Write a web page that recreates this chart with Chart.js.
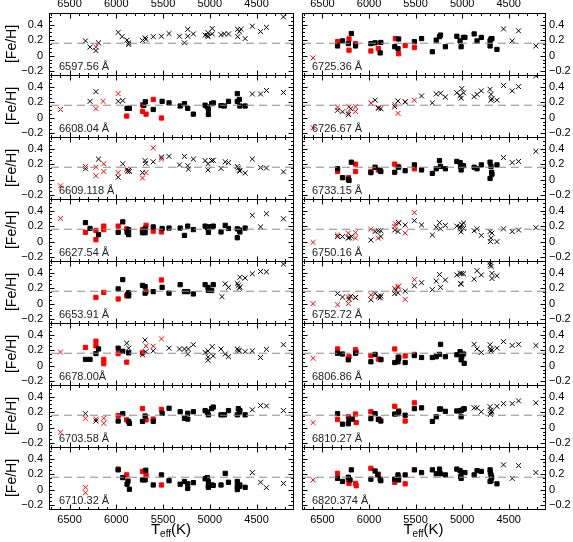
<!DOCTYPE html>
<html lang="en">
<head>
    <meta charset="UTF-8"/>
    <title>[Fe/H] vs Teff per line</title>
    <script src="https://cdn.jsdelivr.net/npm/chart.js"></script>
    <style>
        html, body {
            margin: 0;
            background: #fff;
        }

        #figure {
            position: relative;
            width: 573px;
            height: 542px;
            overflow: hidden;
            background: #fff;
        }

        #figure canvas {
            position: absolute;
        }
    </style>
</head>
<body>
<div id="figure"></div>

<script>
    // axis ranges (Teff axis runs hot -> cool, left to right)
    const tMax = 6720, tMin = 4110;
    const yMin = -0.25, yMax = 0.55;
    const feRef = 0.16;
    const xTicks = [4500, 5000, 5500, 6000, 6500];
    const yTicks = [-0.2, 0, 0.2, 0.4];

    const leftLines = ['6597.56 Å', '6608.04 Å', '6609.118 Å', '6627.54 Å', '6653.91 Å', '6678.00Å', '6703.58 Å', '6710.32 Å'];
    const rightLines = ['6725.36 Å', '6726.67 Å', '6733.15 Å', '6750.16 Å', '6752.72 Å', '6806.86 Å', '6810.27 Å', '6820.374 Å'];

    // [Teff, [Fe/H]] ; sq = black square, sqRed = red square, x = black cross, xRed = red cross
    const sq6597 = [];
    const sqRed6597 = [];
    const x6597 = [[6330, 0.19], [6281, 0.11], [6218, 0.065], [6190, 0.165], [5980, 0.30], [5938, 0.245], [5885, 0.20], [5868, 0.165], [5868, 0.145], [5720, 0.195], [5692, 0.23], [5685, 0.21], [5605, 0.245], [5517, 0.25], [5436, 0.285], [5324, 0.25], [5271, 0.165], [5236, 0.34], [5236, 0.25], [5176, 0.28], [5050, 0.265], [5026, 0.26], [5019, 0.295], [5019, 0.245], [4974, 0.35], [4974, 0.28], [4880, 0.27], [4845, 0.28], [4800, 0.28], [4702, 0.34], [4702, 0.245], [4684, 0.31], [4665, 0.34], [4622, 0.22], [4545, 0.38], [4457, 0.31], [4394, 0.365], [4212, 0.50]];
    const xRed6597 = [[6218, 0.11]];

    const sq6608 = [[5885, 0.12], [5860, 0.12], [5706, 0.157], [5690, 0.205], [5605, 0.105], [5510, 0.21], [5436, 0.19], [5317, 0.15], [5271, 0.18], [5236, 0.12], [5176, 0.045], [5050, 0.16], [5026, 0.14], [5015, 0.04], [5015, 0.105], [4980, 0.18], [4963, 0.19], [4880, 0.155], [4845, 0.15], [4800, 0.21], [4706, 0.31], [4706, 0.21], [4684, 0.235], [4678, 0.15], [4622, 0.15]];
    const sqRed6608 = [[5889, 0.02], [5720, 0.165], [5720, 0.08], [5682, 0.045], [5605, 0.235], [5517, -0.005]];
    const x6608 = [[6281, 0.21], [6218, 0.335], [5980, 0.21], [5931, 0.22], [4545, 0.305], [4457, 0.305], [4394, 0.35], [4212, 0.325]];
    const xRed6608 = [[6597, 0.105], [6218, 0.115], [6141, 0.21], [5980, 0.31]];

    const sq6609 = [];
    const sqRed6609 = [];
    const x6609 = [[6330, 0.14], [6190, 0.265], [5980, 0.03], [5931, 0.205], [5880, 0.11], [5868, 0.12], [5860, 0.105], [5720, 0.09], [5692, 0.245], [5685, 0.21], [5605, 0.23], [5517, 0.29], [5436, 0.30], [5324, 0.19], [5271, 0.30], [5236, 0.18], [5229, 0.135], [5176, 0.265], [5050, 0.245], [5019, 0.205], [5019, 0.125], [4980, 0.245], [4963, 0.25], [4880, 0.145], [4835, 0.23], [4800, 0.22], [4706, 0.17], [4695, 0.15], [4684, 0.12], [4678, 0.11], [4622, 0.085], [4545, 0.265], [4457, 0.155], [4394, 0.15], [4212, 0.10]];
    const xRed6609 = [[6597, -0.08], [6330, 0.17], [6218, 0.16], [6218, 0.05], [6134, 0.205], [6134, 0.105], [5980, 0.09], [5889, 0.135], [5720, 0.02], [5682, 0.09], [5605, 0.41], [5517, 0.265]];

    const sq6627 = [[6330, 0.245], [6281, 0.17], [6190, 0.09], [5980, 0.12], [5931, 0.255], [5885, 0.12], [5868, 0.155], [5868, 0.09], [5720, 0.115], [5692, 0.115], [5692, 0.165], [5605, 0.19], [5510, 0.17], [5436, 0.175], [5317, 0.175], [5271, 0.08], [5236, 0.20], [5176, 0.155], [5050, 0.20], [5026, 0.18], [5015, 0.19], [5015, 0.12], [4984, 0.19], [4963, 0.20], [4880, 0.125], [4835, 0.21], [4800, 0.17], [4706, 0.165], [4706, 0.05], [4684, 0.15], [4678, 0.125], [4622, 0.175]];
    const sqRed6627 = [[6330, 0.12], [6218, 0.145], [6218, 0.025], [6134, 0.20], [6134, 0.155], [5980, 0.20], [5889, 0.165], [5720, 0.155], [5682, 0.21], [5605, 0.135], [5517, 0.125]];
    const x6627 = [[4545, 0.34], [4457, 0.19], [4394, 0.36], [4212, 0.295]];
    const xRed6627 = [[6597, 0.30]];

    const sq6653 = [[5980, 0.19], [5931, 0.31], [5880, 0.12], [5868, 0.14], [5868, 0.10], [5720, 0.235], [5692, 0.22], [5692, 0.135], [5605, 0.155], [5510, 0.21], [5436, 0.135], [5317, 0.245], [5271, 0.155], [5236, 0.155], [5176, 0.125], [5050, 0.245], [5019, 0.21], [5015, 0.17], [4980, 0.17], [4963, 0.245]];
    const sqRed6653 = [[6218, 0.08], [6134, 0.145], [5980, 0.06], [5889, 0.10], [5682, 0.155], [5517, 0.305]];
    const x6653 = [[4870, 0.09], [4835, 0.255], [4800, 0.21], [4706, 0.26], [4695, 0.235], [4684, 0.20], [4678, 0.215], [4678, 0.34], [4622, 0.33], [4545, 0.385], [4457, 0.415], [4394, 0.41], [4212, 0.51]];
    const xRed6653 = [];

    const sq6678 = [[6330, 0.08], [6281, 0.08], [6218, 0.155], [6190, 0.215], [5980, 0.225], [5931, 0.185], [5868, 0.165]];
    const sqRed6678 = [[6330, 0.235], [6218, 0.315], [6218, 0.255], [6134, 0.08], [6134, 0.025], [5980, 0.155], [5889, 0.045], [5720, 0.165]];
    const x6678 = [[5889, 0.29], [5868, 0.225], [5720, 0.14], [5692, 0.33], [5685, 0.18], [5605, 0.19], [5436, 0.225], [5324, 0.215], [5271, 0.215], [5236, 0.15], [5229, 0.215], [5176, 0.27], [5050, 0.17], [5019, 0.19], [5019, 0.11], [5019, 0.07], [4974, 0.245], [4963, 0.125], [4880, 0.215], [4835, 0.15], [4800, 0.115], [4706, 0.215], [4695, 0.20], [4684, 0.19], [4622, 0.18], [4545, 0.19], [4457, 0.105], [4394, 0.21], [4212, 0.27]];
    const xRed6678 = [[6597, 0.175], [5682, 0.255], [5605, 0.25], [5517, 0.345]];

    const sq6703 = [[5980, 0.085], [5931, 0.18], [5868, 0.08], [5860, 0.055], [5720, 0.08], [5692, 0.15], [5605, 0.08], [5510, 0.185], [5436, 0.25], [5317, 0.205], [5271, 0.12], [5236, 0.185], [5236, 0.11], [5176, 0.205], [5050, 0.22], [5026, 0.20], [5015, 0.165], [4980, 0.245], [4963, 0.265], [4880, 0.165], [4845, 0.165], [4800, 0.22], [4706, 0.165], [4695, 0.245], [4684, 0.20], [4678, 0.22], [4622, 0.165]];
    const sqRed6703 = [[5980, 0.155], [5889, 0.10], [5720, 0.245], [5682, 0.10], [5605, 0.11], [5517, 0.235]];
    const x6703 = [[6330, 0.18], [6218, 0.085], [4545, 0.23], [4457, 0.285], [4394, 0.28], [4212, 0.22]];
    const xRed6703 = [[6597, -0.06], [6330, 0.12], [6218, 0.11], [6134, 0.12], [6134, 0.055]];

    const sq6710 = [[5980, 0.255], [5931, 0.155], [5885, 0.07], [5875, 0.11], [5860, 0.005], [5720, 0.125], [5692, 0.125], [5685, 0.25], [5605, 0.06], [5517, 0.19], [5436, 0.115], [5317, 0.07], [5271, 0.105], [5236, 0.075], [5236, 0.015], [5176, 0.09], [5050, 0.14], [5026, 0.155], [5015, 0.105], [5015, 0.045], [5015, 0.03], [4980, 0.06], [4963, 0.055], [4880, 0.06], [4835, 0.21], [4800, 0.095], [4706, 0.105], [4706, 0.045], [4706, 0.0], [4684, 0.04], [4678, 0.06], [4622, 0.03]];
    const sqRed6710 = [[5980, 0.265], [5889, 0.19], [5720, 0.235], [5682, 0.19], [5517, 0.06]];
    const x6710 = [[4545, 0.22], [4457, 0.095], [4394, 0.025], [4212, 0.08]];
    const xRed6710 = [[6330, 0.03], [6330, -0.04]];

    const sq6725 = [[6338, 0.125], [6285, 0.19], [6222, 0.155], [6190, 0.285], [6145, 0.125], [5980, 0.155], [5935, 0.165], [5880, 0.035], [5873, 0.17], [5724, 0.115], [5689, 0.09], [5682, 0.215], [5513, 0.18], [5436, 0.22], [5320, 0.05], [5278, 0.20], [5243, 0.245], [5232, 0.265], [5180, 0.115], [5057, 0.25], [5022, 0.19], [5011, 0.115], [4985, 0.235], [4970, 0.235], [4871, 0.28], [4840, 0.19], [4794, 0.235], [4700, 0.19], [4690, 0.215], [4680, 0.22], [4700, 0.125], [4626, 0.08]];
    const sqRed6725 = [[6338, 0.18], [6215, 0.215], [6215, 0.07], [6145, 0.155], [5980, 0.06], [5900, 0.09], [5717, 0.22], [5682, 0.025], [5612, 0.13], [5513, 0.105]];
    const x6725 = [[4556, 0.345], [4462, 0.19], [4394, 0.32], [4208, 0.125]];
    const xRed6725 = [[6601, -0.03]];

    const sq6726 = [];
    const sqRed6726 = [];
    const x6726 = [[6338, 0.095], [6285, 0.075], [6222, 0.04], [6197, 0.115], [5935, 0.225], [5900, 0.12], [5873, 0.115], [5724, 0.14], [5689, 0.215], [5612, 0.205], [5436, 0.28], [5320, 0.19], [5278, 0.305], [5232, 0.315], [5180, 0.265], [5057, 0.32], [5022, 0.285], [5011, 0.25], [5004, 0.375], [4985, 0.32], [4871, 0.27], [4840, 0.30], [4794, 0.345], [4700, 0.365], [4690, 0.30], [4680, 0.245], [4690, 0.225], [4626, 0.225], [4556, 0.415], [4462, 0.345], [4394, 0.40], [4208, 0.54]];
    const xRed6726 = [[6601, -0.13], [6338, 0.135], [6222, 0.06], [6215, 0.14], [6145, 0.14], [6145, 0.08], [5980, 0.19], [5900, 0.13], [5724, 0.165], [5689, 0.055], [5612, 0.20], [5513, 0.225]];

    const sq6733 = [[6338, 0.14], [6285, 0.025], [6222, 0.005], [6215, -0.01], [6190, 0.225], [5980, 0.09], [5935, 0.16], [5880, 0.115], [5873, 0.105], [5724, 0.095], [5682, 0.16], [5612, 0.115], [5513, 0.19], [5436, 0.125], [5320, 0.08], [5278, 0.14], [5243, 0.245], [5232, 0.17], [5180, 0.14], [5057, 0.235], [5022, 0.22], [5015, 0.17], [5011, 0.125], [4985, 0.18], [4871, 0.16], [4840, 0.14], [4794, 0.19], [4700, 0.225], [4690, 0.17], [4683, 0.095], [4680, 0.07], [4700, 0.015], [4626, 0.19]];
    const sqRed6733 = [[6338, 0.105], [6222, 0.025], [6145, 0.20], [6145, 0.105], [5980, 0.105], [5900, 0.125], [5724, 0.20], [5689, 0.17], [5513, 0.14]];
    const x6733 = [[4556, 0.285], [4462, 0.22], [4394, 0.235], [4208, 0.365]];
    const xRed6733 = [];

    const sq6750 = [];
    const sqRed6750 = [];
    const x6750 = [[6338, 0.065], [6285, 0.065], [6222, 0.045], [6215, 0.055], [6190, 0.065], [5980, 0.02], [5935, 0.13], [5900, 0.14], [5873, 0.14], [5873, 0.065], [5724, 0.15], [5689, 0.13], [5682, 0.245], [5612, 0.215], [5513, 0.27], [5436, 0.215], [5320, 0.085], [5278, 0.185], [5243, 0.245], [5232, 0.165], [5180, 0.21], [5057, 0.20], [5022, 0.19], [5015, 0.165], [5011, 0.125], [5004, 0.22], [4985, 0.24], [4985, 0.17], [4871, 0.14], [4840, 0.165], [4794, 0.08], [4700, 0.13], [4690, 0.045], [4680, 0.11], [4697, 0.0], [4626, 0.0], [4556, 0.165], [4462, 0.13], [4394, 0.15], [4208, 0.18]];
    const xRed6750 = [[6601, -0.01], [6338, 0.085], [6222, 0.11], [6145, 0.115], [6145, 0.045], [5980, 0.16], [5900, 0.045], [5724, 0.195], [5717, 0.23], [5682, 0.24], [5612, 0.11], [5513, 0.375]];

    const sq6752 = [];
    const sqRed6752 = [];
    const x6752 = [[6338, 0.13], [6285, 0.085], [6215, 0.055], [6197, 0.095], [6145, 0.08], [5980, 0.05], [5935, 0.13], [5900, 0.095], [5880, 0.075], [5873, 0.10], [5724, 0.13], [5713, 0.175], [5689, 0.14], [5612, 0.16], [5513, 0.23], [5436, 0.27], [5320, 0.18], [5278, 0.29], [5243, 0.375], [5232, 0.21], [5180, 0.305], [5057, 0.37], [5022, 0.39], [5015, 0.26], [5011, 0.25], [5004, 0.39], [4985, 0.385], [4871, 0.315], [4840, 0.425], [4794, 0.37], [4700, 0.54], [4697, 0.50], [4690, 0.48], [4680, 0.39], [4680, 0.325], [4626, 0.36]];
    const xRed6752 = [[6601, 0.0], [6338, -0.015], [6222, 0.085], [6222, 0.0], [6145, 0.075], [5980, 0.11], [5900, 0.085], [5724, 0.195], [5689, 0.215], [5682, 0.225], [5612, 0.055], [5513, 0.31]];

    const sq6806 = [[6338, 0.16], [6285, 0.15], [6222, 0.075], [6145, 0.16], [5980, 0.05], [5935, 0.145], [5873, 0.08], [5724, 0.04], [5689, 0.05], [5682, 0.095], [5682, 0.11], [5612, 0.04], [5513, 0.13], [5436, 0.105], [5320, 0.105], [5278, 0.115], [5243, 0.145], [5232, 0.275], [5180, 0.115], [5057, 0.14], [5022, 0.18], [5015, 0.15], [5011, 0.075], [5004, 0.115], [4985, 0.15], [4978, 0.03]];
    const sqRed6806 = [[6338, 0.215], [6222, 0.095], [6215, 0.115], [6145, 0.205], [6138, 0.175], [5980, 0.13], [5900, 0.085], [5873, 0.075], [5724, 0.215], [5689, 0.105], [5612, 0.125], [5513, 0.145]];
    const x6806 = [[4871, 0.275], [4840, 0.215], [4794, 0.17], [4700, 0.27], [4697, 0.215], [4690, 0.19], [4680, 0.205], [4626, 0.225], [4556, 0.31], [4462, 0.26], [4394, 0.275], [4208, 0.26]];
    const xRed6806 = [[6601, 0.095]];

    const sq6810 = [[6338, 0.18], [6285, 0.045], [6222, 0.05], [6215, 0.105], [6180, 0.11], [5980, 0.115], [5935, 0.18], [5900, 0.105], [5873, 0.085], [5724, 0.175], [5689, 0.18], [5682, 0.205], [5612, 0.16], [5513, 0.245], [5436, 0.255], [5320, 0.08], [5278, 0.14], [5243, 0.24], [5232, 0.24], [5180, 0.21], [5057, 0.215], [5022, 0.215], [5011, 0.14], [5004, 0.225], [4985, 0.24], [4978, 0.245]];
    const sqRed6810 = [[6338, 0.105], [6222, 0.14], [6145, 0.175], [6138, 0.065], [5980, 0.205], [5893, 0.11], [5724, 0.275], [5682, 0.215], [5612, 0.085], [5513, 0.32]];
    const x6810 = [[4871, 0.255], [4840, 0.255], [4794, 0.205], [4700, 0.27], [4697, 0.17], [4690, 0.225], [4680, 0.205], [4690, 0.19], [4626, 0.275], [4556, 0.31], [4462, 0.31], [4394, 0.345], [4208, 0.32]];
    const xRed6810 = [[6601, 0.065]];

    const sq6820 = [[6338, 0.145], [6285, 0.105], [6222, 0.16], [6204, 0.125], [6190, 0.255], [5980, 0.135], [5935, 0.24], [5907, 0.19], [5880, 0.135], [5873, 0.115], [5724, 0.135], [5689, 0.19], [5682, 0.125], [5612, 0.19], [5513, 0.255], [5436, 0.22], [5320, 0.255], [5278, 0.205], [5243, 0.265], [5232, 0.205], [5180, 0.19], [5057, 0.265], [5022, 0.245], [5015, 0.17], [5011, 0.145], [5004, 0.22], [4970, 0.22], [4871, 0.19], [4840, 0.245], [4794, 0.235], [4700, 0.255], [4697, 0.22], [4690, 0.19], [4683, 0.16], [4690, 0.115], [4700, 0.105], [4626, 0.075]];
    const sqRed6820 = [[6338, 0.21], [6222, 0.125], [6215, 0.08], [6145, 0.08], [6138, 0.05], [5980, 0.275], [5900, 0.20], [5724, 0.095], [5682, 0.16], [5612, 0.075]];
    const x6820 = [[4556, 0.32], [4462, 0.145], [4394, 0.31], [4208, 0.22]];
    const xRed6820 = [[6601, 0.125]];

    const leftSets = [
        [sq6597, sqRed6597, x6597, xRed6597],
        [sq6608, sqRed6608, x6608, xRed6608],
        [sq6609, sqRed6609, x6609, xRed6609],
        [sq6627, sqRed6627, x6627, xRed6627],
        [sq6653, sqRed6653, x6653, xRed6653],
        [sq6678, sqRed6678, x6678, xRed6678],
        [sq6703, sqRed6703, x6703, xRed6703],
        [sq6710, sqRed6710, x6710, xRed6710]
    ];
    const rightSets = [
        [sq6725, sqRed6725, x6725, xRed6725],
        [sq6726, sqRed6726, x6726, xRed6726],
        [sq6733, sqRed6733, x6733, xRed6733],
        [sq6750, sqRed6750, x6750, xRed6750],
        [sq6752, sqRed6752, x6752, xRed6752],
        [sq6806, sqRed6806, x6806, xRed6806],
        [sq6810, sqRed6810, x6810, xRed6810],
        [sq6820, sqRed6820, x6820, xRed6820]
    ];

    const FONT = '"Liberation Sans", Arial, sans-serif';
    Chart.defaults.font.family = FONT;
    Chart.defaults.color = '#000';

    // panel geometry in page pixels
    const plotTop = 13, rowH = 62, pad = 6;
    const topAxisH = 13, bottomAxisH = 33;

    // frame, inward ticks, line label and x title
    const framePlugin = {
        id: 'frame',
        afterDatasetsDraw(chart, args, opts) {
            const {ctx, chartArea: a, scales} = chart;
            const xs = scales.x, ys = scales.y;
            const L = Math.floor(a.left) + 0.5, R = Math.floor(a.right) + 0.5;
            const T = Math.floor(a.top) + 0.5, B = Math.floor(a.bottom) + 0.5;
            ctx.save();
            ctx.strokeStyle = '#000';
            ctx.lineWidth = 1;
            ctx.strokeRect(L, T, R - L, B - T);
            ctx.beginPath();
            for (let t = 4200; t <= 6700; t += 100) {
                const px = Math.round(xs.getPixelForValue(t)) + 0.5;
                if (px <= L || px >= R) continue;
                const len = t % 500 === 0 ? 5 : 2.5;
                ctx.moveTo(px, T);
                ctx.lineTo(px, T + len);
                ctx.moveTo(px, B);
                ctx.lineTo(px, B - len);
            }
            for (let k = -5; k <= 11; k++) {
                const py = Math.round(ys.getPixelForValue(k * 0.05)) + 0.5;
                if (py <= T + 1 || py >= B - 1) continue;
                const len = k % 4 === 0 ? 5 : 2.5;
                ctx.moveTo(L, py);
                ctx.lineTo(L + len, py);
                ctx.moveTo(R, py);
                ctx.lineTo(R - len, py);
            }
            ctx.stroke();

            ctx.fillStyle = '#222';
            ctx.font = '11px ' + FONT;
            ctx.textBaseline = 'alphabetic';
            ctx.textAlign = 'left';
            ctx.fillText(opts.label, a.left + 10, a.bottom - 5);

            if (opts.xTitle) {
                const base = a.bottom + 25;
                ctx.font = '15px ' + FONT;
                const wT = ctx.measureText('T').width, wK = ctx.measureText('(K)').width;
                ctx.font = '10px ' + FONT;
                const wE = ctx.measureText('eff').width;
                let x0 = (a.left + a.right) / 2 - (wT + wE + wK) / 2;
                ctx.fillStyle = '#000';
                ctx.font = '15px ' + FONT;
                ctx.fillText('T', x0, base);
                ctx.font = '10px ' + FONT;
                ctx.fillText('eff', x0 + wT, base + 3);
                ctx.font = '15px ' + FONT;
                ctx.fillText('(K)', x0 + wT + wE, base);
            }
            ctx.restore();
        }
    };

    const toXY = arr => arr.map(p => ({x: p[0], y: p[1]}));

    function makePanel(col, row, label, sets) {
        const [sq, sqRed, xs, xsRed] = sets;
        const first = row === 0, last = row === 7;
        const canvas = document.createElement('canvas');
        const left = col === 0 ? 0 : 297;
        const width = col === 0 ? 298 : 276;
        const top = first ? 0 : plotTop + rowH * row - pad;
        const height = (first ? topAxisH : pad) + rowH + (last ? bottomAxisH : pad);
        canvas.width = width;
        canvas.height = height;
        canvas.style.left = left + 'px';
        canvas.style.top = top + 'px';
        document.getElementById('figure').appendChild(canvas);

        const pointSet = (data, style, color, r) => ({
            type: 'scatter',
            data: toXY(data),
            pointStyle: style,
            pointRadius: r,
            pointBackgroundColor: color,
            pointBorderColor: color,
            pointBorderWidth: 1
        });

        new Chart(canvas, {
            type: 'scatter',
            data: {
                datasets: [
                    {
                        type: 'line',
                        data: [{x: tMin, y: feRef}, {x: tMax, y: feRef}],
                        borderColor: '#8a8a8a',
                        borderWidth: 1,
                        borderDash: [8, 5],
                        pointRadius: 0
                    },
                    pointSet(xs, 'crossRot', '#000', 3.5),
                    pointSet(xsRed, 'crossRot', '#ff0000', 3.5),
                    pointSet(sq, 'rect', '#000', 3),
                    pointSet(sqRed, 'rect', '#ff0000', 3)
                ]
            },
            options: {
                responsive: false,
                animation: false,
                events: [],
                layout: {
                    padding: {top: first ? 0 : pad, bottom: last ? 0 : pad, left: 0, right: col === 0 ? 1 : 0}
                },
                plugins: {
                    legend: {display: false},
                    tooltip: {enabled: false},
                    frame: {label: label, xTitle: last}
                },
                scales: {
                    x: {
                        type: 'linear',
                        reverse: true,
                        min: tMin,
                        max: tMax,
                        display: first || last,
                        position: first ? 'top' : 'bottom',
                        grid: {display: false, drawTicks: false},
                        border: {display: false},
                        afterBuildTicks: s => { s.ticks = xTicks.map(v => ({value: v})); },
                        afterFit: s => {
                            if (first || last) {
                                s.height = first ? topAxisH : bottomAxisH;
                            }
                            s.paddingLeft = 0;
                            s.paddingRight = 0;
                        },
                        ticks: {
                            autoSkip: false,
                            maxRotation: 0,
                            padding: first ? 2 : 4,
                            font: {size: 11},
                            color: '#000',
                            callback: v => String(v)
                        }
                    },
                    y: {
                        type: 'linear',
                        min: yMin,
                        max: yMax,
                        position: col === 0 ? 'left' : 'right',
                        grid: {display: false, drawTicks: false},
                        border: {display: false},
                        afterBuildTicks: s => { s.ticks = yTicks.map(v => ({value: v})); },
                        afterFit: s => {
                            s.width = col === 0 ? 49 : 28;
                            s.paddingTop = 0;
                            s.paddingBottom = 0;
                        },
                        title: {
                            display: col === 0,
                            text: '[Fe/H]',
                            font: {size: 14},
                            color: '#000',
                            padding: {top: 4, bottom: 0}
                        },
                        ticks: {
                            padding: col === 0 ? 6 : 4,
                            font: {size: 11},
                            color: '#000',
                            callback: v => v === 0 ? '0' : (v < 0 ? '\u2212' : '') + Math.abs(v).toFixed(1)
                        }
                    }
                }
            },
            plugins: [framePlugin]
        });
    }

    leftLines.forEach((lbl, i) => makePanel(0, i, lbl, leftSets[i]));
    rightLines.forEach((lbl, i) => makePanel(1, i, lbl, rightSets[i]));
</script>
</body>
</html>
